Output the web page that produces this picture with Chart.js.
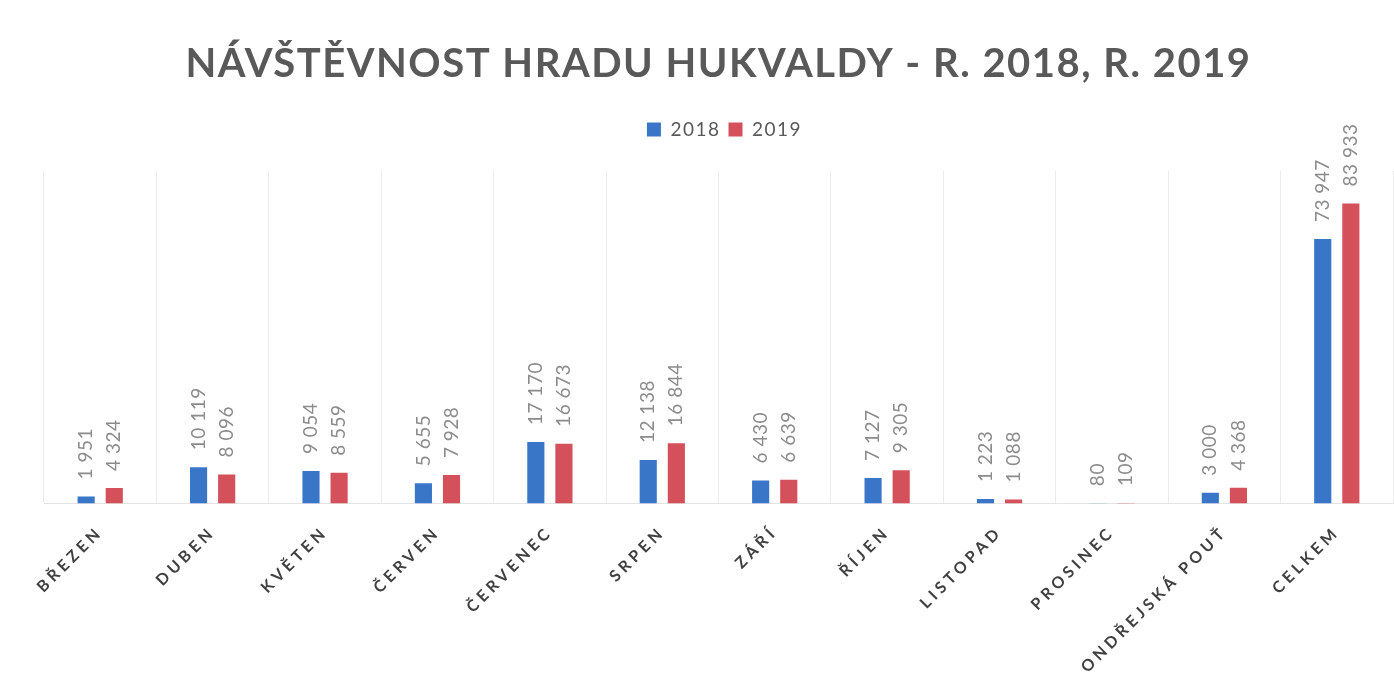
<!DOCTYPE html>
<html>
<head>
<meta charset="utf-8">
<script src="https://cdn.jsdelivr.net/npm/chart.js@4"></script>
<style>
  html, body { margin: 0; padding: 0; background: #fff; }
  #wrap { width: 1394px; height: 693px; position: relative; }
</style>
</head>
<body>
<div id="wrap"><canvas id="chart"></canvas></div>
<script>
const categories = ["BŘEZEN", "DUBEN", "KVĚTEN", "ČERVEN", "ČERVENEC", "SRPEN", "ZÁŘÍ", "ŘÍJEN", "LISTOPAD", "PROSINEC", "ONDŘEJSKÁ POUŤ", "CELKEM"];
const visitors_2018 = [1951, 10119, 9054, 5655, 17170, 12138, 6430, 7127, 1223, 80, 3000, 73947];
const visitors_2019 = [4324, 8096, 8559, 7928, 16673, 16844, 6639, 9305, 1088, 109, 4368, 83933];
const series_labels = ["2018", "2019"];
const chart_colours = ["#3a76c8", "#d4505a"];

function formatNumber(value) {
  return String(value).replace(/\B(?=(\d{3})+(?!\d))/g, " ");
}

// value labels above the bars, rotated like in Excel
const barLabels = {
  id: "barLabels",
  beforeInit(chart) {
    // extra gap between legend and plot area
    const fit = chart.legend.fit;
    chart.legend.fit = function () {
      fit.bind(chart.legend)();
      this.height += 22;
    };
  },
  beforeDraw(chart) {
    chart.ctx.letterSpacing = "1.5px";
  },
  afterDatasetsDraw(chart) {
    const ctx = chart.ctx;
    ctx.letterSpacing = "0.5px";
    chart.data.datasets.forEach((dataset, i) => {
      const meta = chart.getDatasetMeta(i);
      meta.data.forEach((bar, j) => {
        ctx.save();
        ctx.translate(bar.x, bar.y - 17);
        ctx.rotate(-Math.PI / 2);
        ctx.font = "19px Lato";
        ctx.fillStyle = "#8c8c8c";
        ctx.textAlign = "left";
        ctx.textBaseline = "middle";
        ctx.fillText(formatNumber(dataset.data[j]), 0, 0);
        ctx.restore();
      });
    });
    // x tick labels are drawn after this (ticks.z = 1) with wide spacing
    ctx.letterSpacing = "4px";
  },
  afterDraw(chart) {
    chart.ctx.letterSpacing = "0px";
  }
};

const chart_datasets = series_labels.map((label, i) => ({
  label: label,
  data: i === 0 ? visitors_2018 : visitors_2019,
  backgroundColor: chart_colours[i],
  categoryPercentage: 0.5,
  barPercentage: 0.61
}));

const ctx = document.getElementById("chart").getContext("2d");

new Chart(ctx, {
  type: "bar",
  data: {
    labels: categories,
    datasets: chart_datasets
  },
  options: {
    responsive: true,
    maintainAspectRatio: false,
    animation: false,
    layout: { padding: { left: 44, right: 1, top: 40, bottom: 4 } },
    plugins: {
      title: {
        display: true,
        text: "NÁVŠTĚVNOST HRADU HUKVALDY - R. 2018, R. 2019",
        color: "#595959",
        font: { family: "Lato", size: 40, weight: "bold" },
        padding: { top: 0, bottom: 24 }
      },
      legend: {
        position: "top",
        onClick: () => {},
        labels: {
          color: "#595959",
          font: { family: "Lato", size: 19 },
          boxWidth: 14,
          boxHeight: 14,
          padding: 8
        }
      },
      tooltip: { enabled: false }
    },
    scales: {
      x: {
        grid: {
          color: "#ececec",
          drawTicks: false
        },
        border: { color: "#e4e4e4" },
        // room for the letter-spaced labels, measured without spacing
        afterFit: (scale) => { scale.height += 33; },
        ticks: {
          z: 1,
          color: "#404040",
          font: { family: "Lato", size: 16, weight: "bold" },
          minRotation: 45,
          maxRotation: 45,
          padding: 19,
          autoSkip: false
        }
      },
      y: {
        display: false,
        min: 0,
        max: 93000
      }
    }
  },
  plugins: [barLabels]
});
</script>
</body>
</html>
